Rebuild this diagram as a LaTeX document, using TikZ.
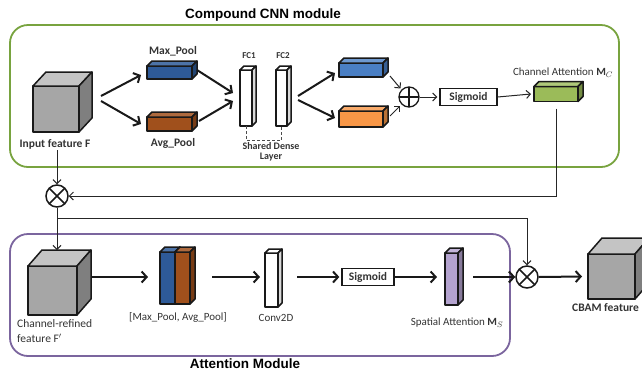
\documentclass[tikz,border=0pt]{standalone}
\usepackage{fontspec}
\setmainfont{Carlito}
\newfontfamily\headfont{Liberation Sans}
\usepackage{tikz}
\usetikzlibrary{arrows.meta, positioning}

\definecolor{cubefront}{HTML}{A6A6A6}
\definecolor{cubetop}{HTML}{C4C4C4}
\definecolor{cubeside}{HTML}{7F7F7F}
\definecolor{poolblue}{HTML}{2E5A98}
\definecolor{poolbrown}{HTML}{A0501C}
\definecolor{fcblue}{HTML}{4A7FC4}
\definecolor{fcorange}{HTML}{F79646}
\definecolor{attgreen}{HTML}{9BBB59}
\definecolor{attpurple}{HTML}{B4A3CF}
\definecolor{framegreen}{HTML}{78A33F}
\definecolor{framepurple}{HTML}{7B659E}

% top and right faces of a 3-D block: node, dx, dy, top fill, side fill
\newcommand{\depthfaces}[5]{%
  \filldraw[blockline, fill=#4] (#1.north west) -- ++(#2,#3) -- ([shift={(#2,#3)}]#1.north east) -- (#1.north east) -- cycle;
  \filldraw[blockline, fill=#5] (#1.north east) -- ++(#2,#3) -- ([shift={(#2,#3)}]#1.south east) -- (#1.south east) -- cycle;
}

\begin{document}
\begin{tikzpicture}[
    x=1pt, y=-1pt,
    blockline/.style={draw=black!90, line width=1.5pt, line join=round},
    block/.style={blockline, inner sep=0pt, outer sep=0pt},
    cube/.style={block, fill=cubefront},
    sigbox/.style={draw=black!90, line width=1.3pt, fill=white, inner sep=0pt, minimum height=17pt, font=\bfseries\fontsize{11.5}{13}\selectfont, text=black!80},
    otimes/.style={circle, draw=black!90, line width=1.5pt, minimum size=22pt, inner sep=0pt,
        path picture={\draw[line width=1.5pt] (path picture bounding box.north west) -- (path picture bounding box.south east)
                      (path picture bounding box.north east) -- (path picture bounding box.south west);}},
    oplus/.style={circle, draw=black!90, line width=1.3pt, minimum size=20pt, inner sep=0pt,
        path picture={\draw[line width=1.3pt] (path picture bounding box.north) -- (path picture bounding box.south)
                      (path picture bounding box.west) -- (path picture bounding box.east);}},
    title/.style={font=\headfont\bfseries\fontsize{13.5}{15}\selectfont, inner sep=1pt},
    lbl/.style={font=\fontsize{11}{13}\selectfont, text=black!80, inner sep=1pt},
    blbl/.style={font=\bfseries\fontsize{11.5}{13}\selectfont, text=black!80, inner sep=1pt},
    arrow/.style={-{Straight Barb[length=5pt,width=11pt]}, line width=2pt, black!90},
    thinarrow/.style={-{Straight Barb[length=4pt,width=8pt]}, line width=1pt, black!85}
]
\useasboundingbox (0,0) rectangle (642,373);

% frames
\draw[framegreen, line width=1.8pt, rounded corners=18pt] (10,25) rectangle (619,167);
\draw[framepurple, line width=1.8pt, rounded corners=18pt] (10,234) rectangle (510,356);
\node[title] (cnnttl) at (263,15) {Compound CNN module};
\node[title] (attttl) at (245,364) {Attention Module};

% channel attention
\node[cube, minimum width=46pt, minimum height=46pt] (inF) at (56,109) {};
\depthfaces{inF}{13pt}{14pt}{cubetop}{cubeside}
\node[blbl] (inlbl) at (55,144) {Input feature F};

\node[block, fill=poolblue, minimum width=45pt, minimum height=13pt] (maxp) at (169.5,72.5) {};
\depthfaces{maxp}{5pt}{5pt}{poolblue!85!white}{poolblue!75!black}
\node[blbl] (maxlbl) at (173,51) {Max\_Pool};
\node[block, fill=poolbrown, minimum width=45pt, minimum height=14pt] (avgp) at (169.5,124) {};
\depthfaces{avgp}{5pt}{5pt}{poolbrown!85!white}{poolbrown!75!black}
\node[blbl] (avglbl) at (173,143) {Avg\_Pool};

\node[block, fill=white, minimum width=12pt, minimum height=56pt] (fc1) at (246,98) {};
\depthfaces{fc1}{4pt}{4pt}{white}{black!15}
\node[block, fill=white, minimum width=11pt, minimum height=56pt] (fc2) at (281.5,98) {};
\depthfaces{fc2}{4pt}{4pt}{white}{black!15}
\node[blbl, font=\bfseries\fontsize{9}{10}\selectfont] (fc1lbl) at (249,56) {FC1};
\node[blbl, font=\bfseries\fontsize{9}{10}\selectfont] (fc2lbl) at (283,56) {FC2};
\draw[densely dashed, line width=0.6pt, black!70] (fc1.south) -- ++(0,-14pt) -| (fc2.south);
\node[lbl, align=center, font=\bfseries\fontsize{10}{9.5}\selectfont] (shlbl) at (271,152) {Shared Dense\\Layer};

\node[block, fill=fcblue, minimum width=44pt, minimum height=14pt] (bl) at (361,70) {};
\depthfaces{bl}{5pt}{5pt}{fcblue!80!white}{fcblue!75!black}
\node[block, fill=fcorange, minimum width=44pt, minimum height=16pt] (orng) at (361,119) {};
\depthfaces{orng}{5pt}{5pt}{fcorange!80!white}{fcorange!75!black}

\node[oplus] (sum) at (409,97) {};
\node[sigbox, minimum width=57pt] (sig1) at (468.5,97) {Sigmoid};
\node[block, fill=attgreen, minimum width=44pt, minimum height=15pt] (mc) at (556,94) {};
\depthfaces{mc}{5pt}{5pt}{attgreen!80!white}{attgreen!75!black}
\node[lbl] (mclbl) at (563,73) {Channel Attention $\mathbf{M}_C$};

\draw[arrow] ([shift={(22pt,13pt)}]inF.east) -- ([shift={(-6pt,-2.5pt)}]maxp.west);
\draw[arrow] ([shift={(22pt,8pt)}]inF.east) -- ([xshift=-6pt]avgp.west);
\draw[arrow] ([shift={(5pt,2.5pt)}]maxp.east) -- ([shift={(-7pt,5pt)}]fc1.west);
\draw[arrow] ([shift={(7pt,3pt)}]avgp.east) -- ([shift={(-7pt,-3pt)}]fc1.west);
\draw[arrow] ([shift={(11pt,2pt)}]fc2.east) -- ([shift={(-4pt,-3pt)}]bl.west);
\draw[arrow] ([shift={(11pt,-2pt)}]fc2.east) -- ([shift={(-4pt,1pt)}]orng.west);
\draw[thinarrow] ([shift={(7pt,-6pt)}]bl.east) -- ([shift={(-1pt,1pt)}]sum.north west);
\draw[thinarrow] ([shift={(7pt,3pt)}]orng.east) -- ([shift={(-1pt,-1pt)}]sum.south west);
\draw[thinarrow, shorten >=2pt] (sum.east) -- (sig1.west);
\draw[thinarrow] (sig1.east) -- ([xshift=-3pt]mc.west);

% channel-refined feature
\node[otimes] (ot1) at (57,196) {};
\draw[thinarrow] ([yshift=-7pt]mc.south) |- (ot1.east);
\draw[thinarrow] (inlbl.south -| ot1.north) -- (ot1.north);

\node[cube, minimum width=49pt, minimum height=49pt] (cube2) at (52.5,290.5) {};
\depthfaces{cube2}{14pt}{16pt}{cubetop}{cubeside}
\node[lbl, align=left, anchor=west, font=\fontsize{11.5}{15}\selectfont] (c2lbl) at (16,331) {Channel-refined\\feature $\mathrm{F}'$};
\coordinate (c2top) at ([yshift=16pt]cube2.north);
\coordinate (split) at (57,218);
\draw[thinarrow] (ot1.south) -- (ot1.south |- c2top);

% spatial attention
\node[block, fill=poolblue, minimum width=15pt, minimum height=52pt] (mxs) at (167.5,278) {};
\depthfaces{mxs}{5pt}{5pt}{poolblue!85!white}{poolblue!75!black}
\node[block, fill=poolbrown, minimum width=15pt, minimum height=52pt] (avs) at (182.5,278) {};
\depthfaces{avs}{5pt}{5pt}{poolbrown!85!white}{poolbrown!75!black}
\node[lbl] (stklbl) at (178,317) {[Max\_Pool, Avg\_Pool]};

\node[block, fill=white, minimum width=13pt, minimum height=54pt] (conv) at (271.5,280) {};
\depthfaces{conv}{4pt}{4pt}{white}{black!15}
\node[lbl] (convlbl) at (276,318) {Conv2D};

\node[sigbox, minimum width=52pt] (sig2) at (368,277) {Sigmoid};
\node[block, fill=attpurple, minimum width=13pt, minimum height=52pt] (ps) at (451.5,279) {};
\depthfaces{ps}{5pt}{5pt}{attpurple!80!white}{attpurple!75!black}
\node[lbl] (pslbl) at (457,323) {Spatial Attention $\mathbf{M}_S$};

\node[otimes] (ot2) at (527,277) {};
\node[cube, minimum width=47pt, minimum height=45pt] (cbam) at (611.5,276.5) {};
\depthfaces{cbam}{14pt}{16pt}{cubetop}{cubeside}
\node[blbl, anchor=west] (cbamlbl) at (571,308) {CBAM feature};

\draw[thinarrow] (split) -| (ot2.north);
\draw[arrow] ([shift={(15pt,13.5pt)}]cube2.east) -- ([shift={(-12pt,1pt)}]mxs.west);
\draw[arrow] ([shift={(22pt,1pt)}]avs.east) -- ([shift={(-5pt,3pt)}]conv.west);
\draw[arrow] ([shift={(19pt,3pt)}]conv.east) -- ([xshift=-2pt]sig2.west);
\draw[arrow] (sig2.east) -- ([shift={(-8pt,2pt)}]ps.west);
\draw[arrow] ([shift={(15pt,2pt)}]ps.east) -- (ot2.west);
\draw[arrow] (ot2.east) -- ([xshift=-6pt]cbam.west);

\end{tikzpicture}
\end{document}
